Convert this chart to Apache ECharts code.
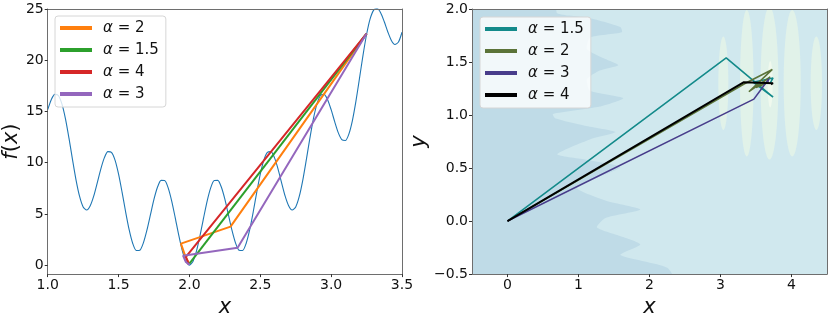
<!DOCTYPE html>
<html>
<head>
<meta charset="utf-8">
<script src="https://cdn.jsdelivr.net/npm/echarts@6/dist/echarts.min.js"></script>
<style>
  html, body { margin: 0; padding: 0; background: #fff; }
  #chart { width: 830px; height: 323px; }
</style>
</head>
<body>
<div id="chart"></div>
<script>
// left panel: f(x) curve
const fX = [1.000, 1.025, 1.050, 1.075, 1.100, 1.125, 1.150, 1.175, 1.200, 1.225,
  1.250, 1.275, 1.300, 1.325, 1.350, 1.375, 1.400, 1.425, 1.450, 1.475,
  1.500, 1.525, 1.550, 1.575, 1.600, 1.625, 1.650, 1.675, 1.700, 1.725,
  1.750, 1.775, 1.800, 1.825, 1.850, 1.875, 1.900, 1.925, 1.950, 1.975,
  2.000, 2.025, 2.050, 2.075, 2.100, 2.125, 2.150, 2.175, 2.200, 2.225,
  2.250, 2.275, 2.300, 2.325, 2.350, 2.375, 2.400, 2.425, 2.450, 2.475,
  2.500, 2.525, 2.550, 2.575, 2.600, 2.625, 2.650, 2.675, 2.700, 2.725,
  2.750, 2.775, 2.800, 2.825, 2.850, 2.875, 2.900, 2.925, 2.950, 2.975,
  3.000, 3.025, 3.050, 3.075, 3.100, 3.125, 3.150, 3.175, 3.200, 3.225,
  3.250, 3.275, 3.300, 3.325, 3.350, 3.375, 3.400, 3.425, 3.450, 3.475, 3.500];
const fY = [15.17, 16.15, 16.67, 16.56, 15.74, 14.30, 12.39, 10.30, 8.30, 6.70,
  5.68, 5.38, 5.79, 6.75, 8.06, 9.40, 10.49, 11.08, 11.01, 10.25,
  8.88, 7.10, 5.18, 3.43, 2.11, 1.42, 1.45, 2.17, 3.41, 4.92,
  6.43, 7.62, 8.27, 8.25, 7.54, 6.25, 4.61, 2.89, 1.38, 0.36,
  0.00, 0.36, 1.38, 2.89, 4.61, 6.25, 7.54, 8.25, 8.27, 7.62,
  6.43, 4.92, 3.41, 2.17, 1.45, 1.42, 2.11, 3.43, 5.18, 7.10,
  8.88, 10.25, 11.01, 11.08, 10.49, 9.40, 8.06, 6.75, 5.79, 5.38,
  5.68, 6.70, 8.30, 10.30, 12.39, 14.30, 15.74, 16.56, 16.67, 16.15,
  15.17, 14.00, 12.93, 12.25, 12.16, 12.79, 14.11, 16.00, 18.23, 20.50,
  22.51, 24.03, 24.89, 25.05, 24.61, 23.75, 22.76, 21.93, 21.53, 21.77, 22.73];

// left panel paths
const leftAlphas = ['2', '1.5', '4', '3'];
const leftPathX = [
  [3.25, 2.29, 1.94, 1.97, 2.00],
  [3.25, 2.00],
  [3.25, 1.975, 1.995],
  [3.25, 2.34, 1.955, 1.975, 2.00]
];
const leftPathY = [
  [22.6, 3.75, 2.10, 0.90, 0.12],
  [22.6, 0.15],
  [22.6, 0.80, 0.08],
  [22.6, 1.70, 0.92, 0.30, 0.05]
];
const leftColors = ['#ff7f0e', '#2ca02c', '#d62728', '#9467bd'];

// right panel paths
const rightAlphas = ['1.5', '2', '3', '4'];
const rightPathX = [
  [0, 3.08, 3.74, 3.46, 3.74, 3.70],
  [0, 3.35, 3.73, 3.40, 3.70, 3.50, 3.68],
  [0, 3.47, 3.68, 3.66],
  [0, 3.33, 3.74, 3.71]
];
const rightPathY = [
  [0, 1.54, 1.17, 1.31, 1.35, 1.30],
  [0, 1.30, 1.43, 1.22, 1.36, 1.26, 1.31],
  [0, 1.15, 1.34, 1.30],
  [0, 1.31, 1.30, 1.29]
];
const rightColors = ['#138a8a', '#5b7338', '#483d8b', '#000000'];

// right panel background: darker region edge and pale ellipses
const shadeEdge = [[-0.6, 2.1], [0.67, 2.1], [0.70, 1.96], [1.12, 1.92], [1.59, 1.83], [1.61, 1.78],
  [1.16, 1.73], [1.12, 1.62], [1.37, 1.53], [1.56, 1.47], [1.30, 1.42], [1.12, 1.34],
  [1.16, 1.23], [1.63, 1.16], [1.30, 1.08], [0.64, 1.01], [0.67, 0.97], [1.09, 0.90],
  [1.52, 0.84], [1.16, 0.77], [0.70, 0.63], [1.09, 0.58], [1.59, 0.51], [1.30, 0.42],
  [0.98, 0.31], [1.40, 0.19], [1.87, 0.11], [1.38, 0.03], [1.26, -0.06], [1.63, -0.15],
  [1.87, -0.22], [1.59, -0.32], [2.25, -0.44], [2.36, -0.6], [-0.6, -0.6]];
const paleBlobs = [
  [3.04, 1.30, 0.07, 0.44],
  [3.37, 1.30, 0.095, 0.69],
  [3.69, 1.30, 0.125, 0.72],
  [4.01, 1.30, 0.12, 0.69],
  [4.35, 1.30, 0.08, 0.44]
];
const paleCore = [[3.70, 1.29, 0.035, 0.22]];

const leftXTicks = [1.0, 1.5, 2.0, 2.5, 3.0, 3.5];
const leftYTicks = [0, 5, 10, 15, 20, 25];
const rightXTicks = [0, 1, 2, 3, 4];

const FONT = 'DejaVu Sans';
const frameColor = '#6e6e6e';

function zip(xs, ys) {
  return xs.map((x, i) => [x, ys[i]]);
}

function frameAxis(grid, pos, min, max) {
  return {
    gridIndex: grid, type: 'value', position: pos, min: min, max: max, z: 10,
    axisLine: { show: true, onZero: false, lineStyle: { color: frameColor, width: 1 } },
    axisTick: { show: false }, axisLabel: { show: false }, splitLine: { show: false }
  };
}

function mainAxis(grid, pos, min, max, ticks, fmt, name, gap) {
  const ax = {
    gridIndex: grid, type: 'value', position: pos, min: min, max: max, z: 10,
    axisLine: { show: true, onZero: false, lineStyle: { color: frameColor, width: 1 } },
    axisTick: { show: true, length: 3, lineStyle: { color: '#333' } },
    axisLabel: { color: '#111', fontFamily: FONT, fontSize: 14, margin: 4, formatter: fmt },
    splitLine: { show: false },
    name: name, nameLocation: 'middle', nameGap: gap,
    nameTextStyle: {
      color: '#111', fontFamily: FONT, fontSize: 21, fontStyle: 'italic',
      rich: { n: { fontFamily: FONT, fontSize: 21, fontStyle: 'normal', color: '#111' } }
    }
  };
  if (ticks) {
    ax.axisLabel.customValues = ticks;
    ax.axisTick.customValues = ticks;
  } else {
    ax.interval = 0.5;
  }
  return ax;
}

const fmt1 = v => v.toFixed(1).replace('-', '\u2212');
const fmt0 = v => String(v);

function legendOf(names, left, top) {
  return {
    data: names, left: left, top: top, orient: 'vertical',
    icon: 'rect', itemWidth: 32, itemHeight: 4, itemGap: 4,
    padding: [3, 7, 4, 5],
    backgroundColor: 'rgba(255,255,255,0.8)', borderColor: '#d6d6d6', borderWidth: 1, borderRadius: 3,
    formatter: n => '{a|\u03b1} = ' + n.split('=')[1],
    textStyle: {
      color: '#111', fontFamily: FONT, fontSize: 15, lineHeight: 18, padding: [0, 0, 0, 6],
      rich: { a: { fontFamily: FONT, fontSize: 15, fontStyle: 'italic', color: '#111' } }
    }
  };
}

const leftNames = leftAlphas.map(a => 'L=' + a);
const rightNames = rightAlphas.map(a => 'R=' + a);

const series = [];

// right background
series.push({
  type: 'custom', xAxisIndex: 2, yAxisIndex: 2, clip: true, silent: true, z: 1,
  data: [[0, 0]],
  renderItem: (params, api) => ({
    type: 'polygon',
    shape: { points: shadeEdge.map(p => api.coord(p)), smooth: 0.2 },
    style: { fill: '#bfdbe7' }
  })
});
series.push({
  type: 'custom', xAxisIndex: 2, yAxisIndex: 2, clip: true, silent: true, z: 1,
  data: paleBlobs,
  renderItem: (params, api) => {
    const c = api.coord([api.value(0), api.value(1)]);
    const s = api.size([api.value(2), api.value(3)]);
    return { type: 'ellipse', shape: { cx: c[0], cy: c[1], rx: s[0], ry: s[1] }, style: { fill: '#e1f2e9' } };
  }
});
series.push({
  type: 'custom', xAxisIndex: 2, yAxisIndex: 2, clip: true, silent: true, z: 1,
  data: paleCore,
  renderItem: (params, api) => {
    const c = api.coord([api.value(0), api.value(1)]);
    const s = api.size([api.value(2), api.value(3)]);
    return { type: 'ellipse', shape: { cx: c[0], cy: c[1], rx: s[0], ry: s[1] }, style: { fill: '#f0f9ee' } };
  }
});

// left curve
series.push({
  name: 'f', type: 'line', xAxisIndex: 0, yAxisIndex: 0, data: zip(fX, fY),
  showSymbol: false, symbol: 'none', smooth: 0.25, clip: true,
  lineStyle: { color: '#1f77b4', width: 1.1 }, itemStyle: { color: '#1f77b4' }
});

leftNames.forEach((n, i) => {
  series.push({
    name: n, type: 'line', xAxisIndex: 0, yAxisIndex: 0,
    data: zip(leftPathX[i], leftPathY[i]), symbol: 'none', clip: true,
    lineStyle: { color: leftColors[i], width: 2 }, itemStyle: { color: leftColors[i] }
  });
});

rightNames.forEach((n, i) => {
  series.push({
    name: n, type: 'line', xAxisIndex: 2, yAxisIndex: 2,
    data: zip(rightPathX[i], rightPathY[i]), symbol: 'none', clip: true,
    lineStyle: { color: rightColors[i], width: i === 3 ? 2 : 1.6 }, itemStyle: { color: rightColors[i] }
  });
});

const chart = echarts.init(document.getElementById('chart'), null, { renderer: 'canvas' });
chart.setOption({
  animation: false,
  backgroundColor: '#ffffff',
  grid: [
    { left: 47, right: 428, top: 9, bottom: 44, show: false },
    { left: 472, right: 3, top: 9, bottom: 44, show: true, backgroundColor: '#d0e8ee', borderWidth: 0 }
  ],
  legend: [legendOf(leftNames, 55, 16), legendOf(rightNames, 480, 17)],
  xAxis: [
    mainAxis(0, 'bottom', 1, 3.5, leftXTicks, fmt1, 'x', 21),
    frameAxis(0, 'top', 1, 3.5),
    mainAxis(1, 'bottom', -0.5, 4.5, rightXTicks, fmt0, 'x', 21),
    frameAxis(1, 'top', -0.5, 4.5)
  ],
  yAxis: [
    mainAxis(0, 'left', -0.88, 25, leftYTicks, fmt0, '{n|}f{n|(}x{n|)}', 23),
    frameAxis(0, 'right', -0.88, 25),
    mainAxis(1, 'left', -0.5, 2.0, null, fmt1, 'y', 40),
    frameAxis(1, 'right', -0.5, 2.0)
  ],
  series: series
});
</script>
</body>
</html>
